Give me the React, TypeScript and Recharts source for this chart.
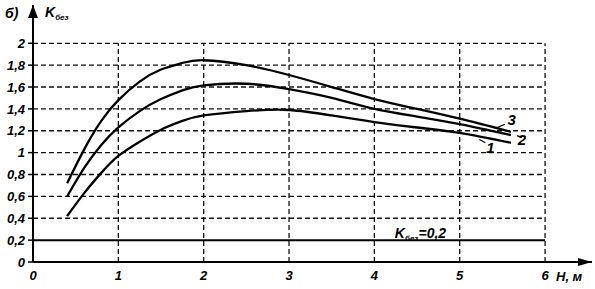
import { LineChart, Line, XAxis, YAxis, ReferenceLine, ReferenceDot } from "recharts";

// H, m
const hValues = [0.4, 0.6, 0.8, 1.0, 1.25, 1.5, 1.75, 2.0, 2.5, 3.0, 3.5, 4.0, 4.5, 5.0, 5.6];
// K_без for curves 1..3
const curve1 = [0.42, 0.63, 0.815, 0.97, 1.1, 1.21, 1.29, 1.34, 1.38, 1.39, 1.34, 1.28, 1.23, 1.18, 1.09];
const curve2 = [0.6, 0.86, 1.07, 1.23, 1.38, 1.49, 1.57, 1.615, 1.63, 1.58, 1.5, 1.4, 1.33, 1.26, 1.16];
const curve3 = [0.72, 1.03, 1.29, 1.48, 1.65, 1.76, 1.82, 1.845, 1.8, 1.71, 1.6, 1.49, 1.4, 1.31, 1.19];

const xTicks = [0, 1, 2, 3, 4, 5, 6];
const yTicks = [0, 0.2, 0.4, 0.6, 0.8, 1, 1.2, 1.4, 1.6, 1.8, 2];
const gridY = [0.4, 0.6, 0.8, 1, 1.2, 1.4, 1.6, 1.8, 2];
const gridX = [1, 2, 3, 4, 5, 6];
const baseLevel = 0.2;

// curve number labels and their leader lines
const curveLabels = [
  { text: "3", h: 5.61, k: 1.3 },
  { text: "2", h: 5.73, k: 1.12 },
  { text: "1", h: 5.36, k: 1.05 },
];
const leaders = [
  { h1: 5.44, k1: 1.23, h2: 5.53, k2: 1.26 },
  { h1: 5.23, k1: 1.12, h2: 5.3, k2: 1.09 },
  { h1: 5.67, k1: 1.155, h2: 5.73, k2: 1.14 },
];

const rows = hValues.map((h, i) => ({ h, c1: curve1[i], c2: curve2[i], c3: curve3[i] }));

const FONT = "'Liberation Sans', Arial, sans-serif";
const tickStyle = { fontSize: 13, fill: "#000", fontStyle: "italic", fontWeight: 700, fontFamily: FONT };
const fmt = (v: number) => String(v).replace(".", ",");

export default function App() {
  return (
    <div style={{ position: "relative", width: 595, height: 289, background: "#fff" }}>
      <style>{`body{margin:0}`}</style>
      <LineChart width={595} height={289} data={rows} margin={{ top: 5, right: 3, bottom: 0, left: 0 }}>
        <XAxis
          type="number"
          dataKey="h"
          domain={[0, 6.55]}
          ticks={xTicks}
          tickLine={false}
          tickSize={0}
          tickMargin={9}
          axisLine={{ stroke: "#000", strokeWidth: 2 }}
          tick={tickStyle}
          height={27}
          allowDataOverflow
        />
        <YAxis
          type="number"
          domain={[0, 2.35]}
          ticks={yTicks}
          tickSize={5}
          tickMargin={3}
          tickLine={{ stroke: "#000", strokeWidth: 1.5 }}
          axisLine={{ stroke: "#000", strokeWidth: 2 }}
          tick={tickStyle}
          tickFormatter={fmt}
          width={33}
          allowDataOverflow
        />
        {gridY.map((y) => (
          <ReferenceLine
            key={"gy" + y}
            segment={[{ x: 0, y }, { x: 6, y }]}
            stroke="#111"
            strokeWidth={1.3}
            strokeDasharray="5 3"
          />
        ))}
        {gridX.map((x) => (
          <ReferenceLine
            key={"gx" + x}
            segment={[{ x, y: 0 }, { x, y: 2 }]}
            stroke="#111"
            strokeWidth={1.3}
            strokeDasharray="5 3"
          />
        ))}
        <ReferenceLine
          segment={[{ x: 0, y: baseLevel }, { x: 6, y: baseLevel }]}
          stroke="#000"
          strokeWidth={2}
        />
        <Line dataKey="c1" type="natural" stroke="#000" strokeWidth={2.3} dot={false} isAnimationActive={false} />
        <Line dataKey="c2" type="natural" stroke="#000" strokeWidth={2.3} dot={false} isAnimationActive={false} />
        <Line dataKey="c3" type="natural" stroke="#000" strokeWidth={2.3} dot={false} isAnimationActive={false} />
        {leaders.map((l, i) => (
          <ReferenceLine
            key={"ld" + i}
            segment={[{ x: l.h1, y: l.k1 }, { x: l.h2, y: l.k2 }]}
            stroke="#000"
            strokeWidth={1.2}
          />
        ))}
        {curveLabels.map((c) => (
          <ReferenceDot
            key={"cl" + c.text}
            x={c.h}
            y={c.k}
            ifOverflow="visible"
            shape={(p: any) => (
              <text
                x={p.cx}
                y={p.cy}
                textAnchor="middle"
                dominantBaseline="central"
                style={{ fontSize: 15, fontStyle: "italic", fontWeight: 700, fontFamily: FONT }}
              >
                {c.text}
              </text>
            )}
          />
        ))}
        <ReferenceDot
          x={4.24}
          y={0.215}
          ifOverflow="visible"
          shape={(p: any) => (
            <text
              x={p.cx}
              y={p.cy}
              style={{ fontSize: 14, fontStyle: "italic", fontWeight: 700, fontFamily: FONT }}
            >
              K
              <tspan dy={3} style={{ fontSize: 8 }}>без</tspan>
              <tspan dy={-3}>=0,2</tspan>
            </text>
          )}
        />
        <ReferenceDot
          x={0}
          y={2.35}
          ifOverflow="visible"
          shape={(p: any) => (
            <polygon points={`${p.cx},${p.cy} ${p.cx - 5},${p.cy + 13} ${p.cx + 5},${p.cy + 13}`} fill="#000" />
          )}
        />
        <ReferenceDot
          x={6.55}
          y={0}
          ifOverflow="visible"
          shape={(p: any) => (
            <polygon points={`${p.cx},${p.cy} ${p.cx - 14},${p.cy - 4} ${p.cx - 14},${p.cy + 4}`} fill="#000" />
          )}
        />
      </LineChart>
      <div style={{ position: "absolute", left: 5, top: 5, fontSize: 14, fontStyle: "italic", fontWeight: 700, fontFamily: FONT }}>
        б)
      </div>
      <div style={{ position: "absolute", left: 45, top: 4, fontSize: 14, fontStyle: "italic", fontWeight: 700, fontFamily: FONT }}>
        K<span style={{ fontSize: 8, position: "relative", top: 3 }}>без</span>
      </div>
      <div style={{ position: "absolute", left: 556, top: 269, fontSize: 13, fontStyle: "italic", fontWeight: 700, fontFamily: FONT }}>
        H, м
      </div>
    </div>
  );
}
